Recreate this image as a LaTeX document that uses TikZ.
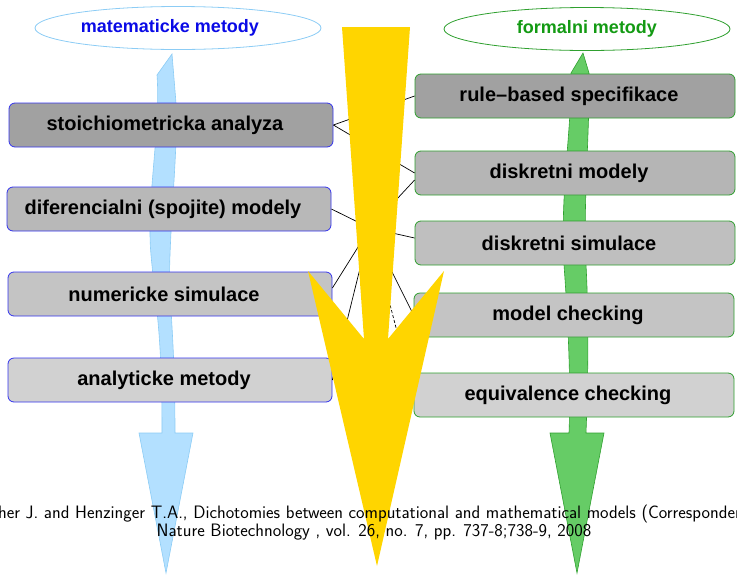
\documentclass[tikz,border=0pt]{standalone}
\usepackage{fontspec}
\usetikzlibrary{shapes.geometric}
\newfontfamily\boxfont{Liberation Sans}
\definecolor{boxblue}{HTML}{3333EE}
\definecolor{boxgreen}{HTML}{2E9E2E}
\definecolor{skyfill}{HTML}{B3E0FF}
\definecolor{skyline}{HTML}{8CCCF5}
\definecolor{leaffill}{HTML}{66CC66}
\definecolor{leafline}{HTML}{2FA02F}
\definecolor{gold}{HTML}{FFD500}
\definecolor{matblue}{HTML}{0A0AE6}
\definecolor{formgreen}{HTML}{139A13}
\begin{document}
\begin{tikzpicture}[x=1pt,y=-1pt,
  lb/.style={draw=boxblue,line width=0.8pt,rounded corners=6pt,minimum width=324pt,
    minimum height=44pt,inner sep=0pt,font=\boxfont\bfseries\fontsize{20}{24}\selectfont,
    execute at end node=\hspace*{12pt}},
  rb/.style={lb,draw=boxgreen,minimum width=320pt},
  ell/.style={ellipse,line width=0.8pt,minimum width=286pt,minimum height=43pt,inner sep=0pt,
    font=\boxfont\bfseries\fontsize{18}{22}\selectfont},
  conn/.style={line width=0.7pt}]
\useasboundingbox (0,0) rectangle (737,574);
\filldraw[fill=skyfill,draw=skyline,line width=0.6pt] (172,54) -- (157,75)
  .. controls (161,130) and (146,200) .. (151,255)
  .. controls (156,310) and (162,330) .. (162,433) -- (139,433) -- (166,573)
  -- (193,433) -- (175,433) .. controls (175,330) and (168,300) .. (170,255)
  .. controls (172,200) and (178,140) .. (176,103) -- cycle;
\filldraw[fill=leaffill,draw=leafline,line width=0.6pt] (583,53) -- (571,73)
  .. controls (572,130) and (560,190) .. (564,265)
  .. controls (568,320) and (571,380) .. (569,433) -- (550,433) -- (577,573)
  -- (604,433) -- (586,433) .. controls (588,380) and (589,320) .. (586,265)
  .. controls (583,200) and (590,130) .. (589,73) -- cycle;
\node[ell,draw=skyline,text=matblue] (mat) at (178,28) {matematicke metody\hspace*{16pt}};
\node[ell,draw=leafline,text=formgreen] (form) at (587,29) {formalni metody};
\node[lb,fill=black!37] (stoich) at (171,125) {stoichiometricka analyza};
\node[lb,fill=black!28] (difer) at (169,209) {diferencialni (spojite) modely};
\node[lb,fill=black!23] (numer) at (170,294) {numericke simulace};
\node[lb,fill=black!18] (analyt) at (170,380) {analyticke metody};
\node[rb,fill=black!37] (rule) at (575,96) {rule–based specifikace};
\node[rb,fill=black!29] (dmod) at (575,173) {diskretni modely};
\node[rb,fill=black!25] (dsim) at (575,243) {diskretni simulace};
\node[rb,fill=black!23] (mcheck) at (574,315) {model checking};
\node[rb,fill=black!18] (echeck) at (574,395) {equivalence checking};
\coordinate (hub) at (370,228);
\draw[conn] (stoich.east) -- (rule.west);
\draw[conn] (stoich.east) -- (dmod.west);
\draw[conn] (difer.east) -- (hub);
\draw[conn] ([yshift=6pt]numer.east) -- (hub);
\draw[conn] (analyt.east) -- (hub);
\draw[conn] (hub) -- ([yshift=-7pt]dmod.west);
\draw[conn] (hub) -- ([yshift=5pt]dsim.west);
\draw[conn] (hub) -- (mcheck.west);
\draw[conn,dash pattern=on 3pt off 2pt] (hub) -- (echeck.west);
\fill[gold] (342,27) -- (410,27) -- (388,339) -- (444,271) -- (377,566)
  -- (308,271) -- (364,339) -- cycle;
\node[font=\sffamily\fontsize{18}{18}\selectfont,align=center] (cite) at (374,523)
  {Fisher J. and Henzinger T.A., Dichotomies between computational and mathematical models (Correspondence),\\
   Nature Biotechnology , vol. 26, no. 7, pp. 737-8;738-9, 2008};
\end{tikzpicture}
\end{document}
